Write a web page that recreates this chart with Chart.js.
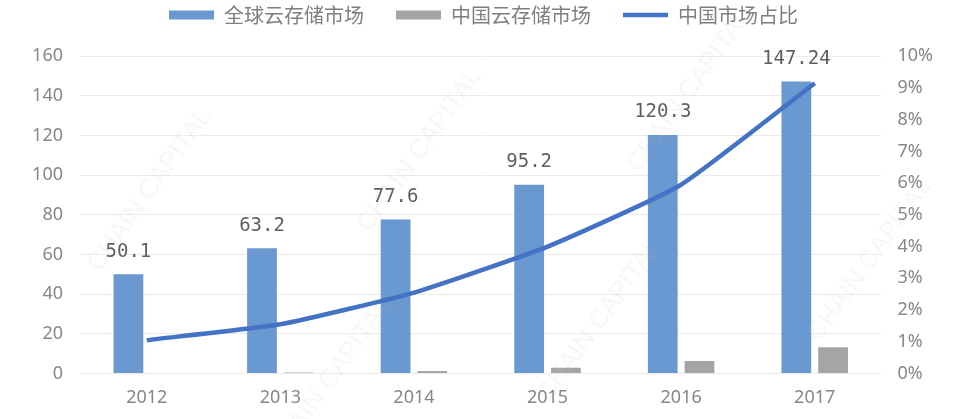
<!DOCTYPE html>
<html>
<head>
<meta charset="utf-8">
<script src="https://cdn.jsdelivr.net/npm/chart.js@4.4.1/dist/chart.umd.min.js"></script>
<style>
  html, body { margin: 0; padding: 0; background: #fff; }
  #wrap { position: relative; width: 967px; height: 419px; }
</style>
</head>
<body>
<div id="wrap"><canvas id="cloudChart"></canvas></div>
<script>
const years = ['2012', '2013', '2014', '2015', '2016', '2017'];
const globalMarket = [50.1, 63.2, 77.6, 95.2, 120.3, 147.24]; // 全球云存储市场
const chinaMarket = [0, 0.5, 1.3, 2.9, 6.3, 13.2];            // 中国云存储市场
const chinaShare = [1.05, 1.55, 2.55, 4.0, 5.95, 9.15];       // 中国市场占比 (%)
const leftTicks = [0, 160, 20];
const rightTicks = [0, 10, 1];

const tickColor = '#878787';
const gridColor = '#ebebeb';

// value labels above the blue bars
const barValueLabels = {
    id: 'barValueLabels',
    afterDatasetsDraw(chart) {
        const ctx = chart.ctx;
        const meta = chart.getDatasetMeta(0);
        ctx.save();
        ctx.font = '19px "DejaVu Sans Mono", monospace';
        ctx.fillStyle = '#5f5f5f';
        ctx.textAlign = 'center';
        ctx.textBaseline = 'bottom';
        meta.data.forEach((bar, i) => {
            ctx.fillText(String(globalMarket[i]), bar.x, bar.y - 13);
        });
        ctx.restore();
    }
};

// faint "CHAIN CAPITAL" watermark
const watermark = {
    id: 'watermark',
    afterDatasetsDraw(chart) {
        const ctx = chart.ctx;
        ctx.save();
        ctx.font = '26px "Liberation Sans", sans-serif';
        ctx.fillStyle = 'rgba(190, 190, 190, 0.12)';
        ctx.textAlign = 'center';
        ctx.textBaseline = 'middle';
        const spots = [[150, 190], [420, 150], [690, 90], [330, 380], [600, 320], [870, 260]];
        spots.forEach(([x, y]) => {
            ctx.save();
            ctx.translate(x, y);
            ctx.rotate(-0.95);
            ctx.fillText('CHAIN CAPITAL', 0, 0);
            ctx.restore();
        });
        ctx.restore();
    }
};

window.onload = () => {
    const ctx = document.getElementById('cloudChart').getContext('2d');
    new Chart(ctx, {
        data: {
            labels: years,
            datasets: [{
                type: 'bar',
                label: '全球云存储市场',
                data: globalMarket,
                backgroundColor: '#6a98d0',
                pointStyle: 'rect',
                yAxisID: 'y',
                order: 1,
                categoryPercentage: 0.55,
                barPercentage: 0.81
            }, {
                type: 'bar',
                label: '中国云存储市场',
                data: chinaMarket,
                backgroundColor: '#a5a5a5',
                pointStyle: 'rect',
                yAxisID: 'y',
                order: 1,
                categoryPercentage: 0.55,
                barPercentage: 0.81
            }, {
                type: 'line',
                label: '中国市场占比',
                data: chinaShare,
                borderColor: '#4472c4',
                backgroundColor: '#4472c4',
                borderWidth: 4.5,
                pointRadius: 0,
                pointStyle: 'line',
                tension: 0.15,
                yAxisID: 'y1',
                order: 0
            }]
        },
        options: {
            responsive: true,
            maintainAspectRatio: false,
            animation: false,
            layout: { padding: { top: -27, left: 0, right: 0, bottom: 0 } },
            plugins: {
                tooltip: { enabled: false },
                title: {
                    display: true,
                    text: '',
                    weight: 500,
                    font: { size: 1 },
                    padding: { top: 20, bottom: 0 }
                },
                legend: {
                    position: 'top',
                    labels: {
                        usePointStyle: true,
                        pointStyleWidth: 45,
                        boxHeight: 9,
                        padding: 32,
                        color: '#7f7f7f',
                        font: { family: '"Noto Sans CJK SC", sans-serif', size: 20 },
                        sort: (a, b) => a.datasetIndex - b.datasetIndex
                    }
                }
            },
            scales: {
                x: {
                    grid: { display: false },
                    border: { display: true, color: gridColor },
                    ticks: {
                        color: tickColor,
                        padding: 6,
                        font: { family: '"Noto Sans", sans-serif', size: 18 }
                    },
                    afterFit(scale) { scale.height = 45.5; }
                },
                y: {
                    position: 'left',
                    min: leftTicks[0],
                    max: leftTicks[1],
                    ticks: {
                        stepSize: leftTicks[2],
                        color: tickColor,
                        padding: 17,
                        font: { family: '"Noto Sans", sans-serif', size: 18 }
                    },
                    grid: { color: gridColor, drawTicks: false },
                    border: { display: false },
                    afterFit(scale) { scale.width = 80; }
                },
                y1: {
                    position: 'right',
                    min: rightTicks[0],
                    max: rightTicks[1],
                    ticks: {
                        stepSize: rightTicks[2],
                        color: tickColor,
                        padding: 16,
                        font: { family: '"Noto Sans", sans-serif', size: 18 },
                        callback: v => v + '%'
                    },
                    grid: { display: false, drawTicks: false },
                    border: { display: false },
                    afterFit(scale) { scale.width = 85.5; }
                }
            }
        },
        plugins: [barValueLabels, watermark]
    });
};
</script>
</body>
</html>
